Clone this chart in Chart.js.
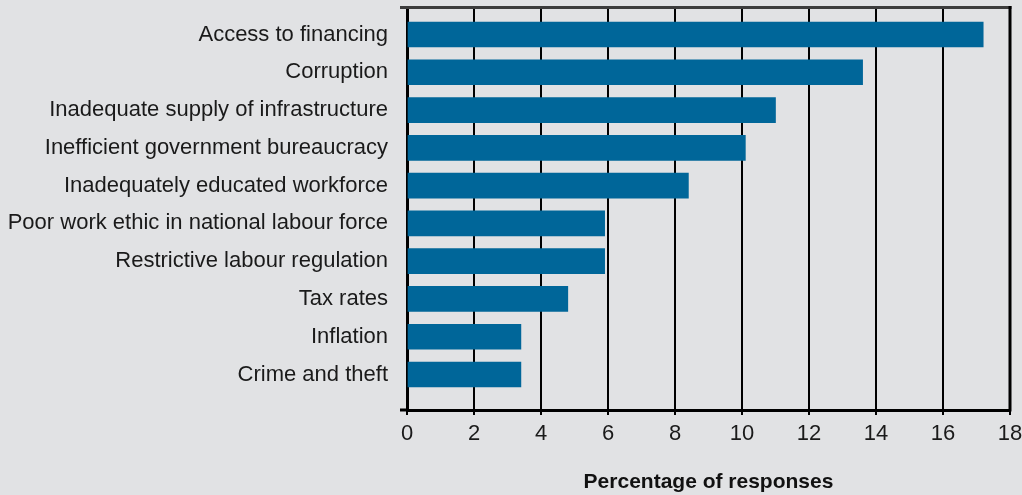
<!DOCTYPE html>
<html>
<head>
<meta charset="utf-8">
<script src="https://cdn.jsdelivr.net/npm/chart.js@4.4.1/dist/chart.umd.min.js"></script>
<style>
  html, body { margin: 0; padding: 0; background: #e1e2e4; }
  #wrap { width: 1022px; height: 495px; position: relative; }
</style>
</head>
<body>
<div id="wrap"><canvas id="c" width="1022" height="495"></canvas></div>
<script>
const categories = [
  "Access to financing",
  "Corruption",
  "Inadequate supply of infrastructure",
  "Inefficient government bureaucracy",
  "Inadequately educated workforce",
  "Poor work ethic in national labour force",
  "Restrictive labour regulation",
  "Tax rates",
  "Inflation",
  "Crime and theft"
];
const values = [17.2, 13.6, 11.0, 10.1, 8.4, 5.9, 5.9, 4.8, 3.4, 3.4];
const xTicks = [0, 2, 4, 6, 8, 10, 12, 14, 16, 18];
const axisTitle = "Percentage of responses";

const FONT = "'Liberation Sans', Arial, sans-serif";

const framePlugin = {
  id: 'frame',
  afterDraw(chart) {
    const { ctx, chartArea: a } = chart;
    ctx.save();
    // top border (dark grey)
    ctx.strokeStyle = '#3c3c3c';
    ctx.lineWidth = 3;
    ctx.beginPath();
    ctx.moveTo(a.left - 7, a.top - 1.5);
    ctx.lineTo(a.right + 1.5, a.top - 1.5);
    ctx.stroke();
    // right border
    ctx.strokeStyle = '#000';
    ctx.beginPath();
    ctx.moveTo(a.right, a.top - 3);
    ctx.lineTo(a.right, a.bottom + 1.5);
    ctx.stroke();
    // bottom axis extension to the left
    ctx.beginPath();
    ctx.moveTo(a.left - 7, a.bottom);
    ctx.lineTo(a.left, a.bottom);
    ctx.stroke();
    ctx.restore();
  }
};

new Chart(document.getElementById('c'), {
  type: 'bar',
  data: {
    datasets: [{
      data: values.map((v, i) => ({ x: v, y: i })),
      backgroundColor: '#006699',
      borderWidth: 0,
      barThickness: 25
    }]
  },
  options: {
    indexAxis: 'y',
    responsive: false,
    animation: false,
    layout: { padding: { left: 0, right: 12, top: 9, bottom: 0 } },
    plugins: { legend: { display: false }, tooltip: { enabled: false } },
    scales: {
      x: {
        type: 'linear',
        position: 'bottom',
        min: 0,
        max: 18,
        offset: false,
        afterBuildTicks: (s) => { s.ticks = xTicks.map(v => ({ value: v })); },
        afterFit: (s) => { s.height = 85; s.paddingLeft = 0; s.paddingRight = 0; },
        grid: {
          color: '#000',
          lineWidth: 2,
          offset: false,
          drawTicks: true,
          tickLength: 5,
          tickColor: '#000',
          tickWidth: 2
        },
        border: { display: true, color: '#000', width: 3 },
        ticks: {
          color: '#1a1a1a',
          font: { family: FONT, size: 22 },
          padding: 6,
          maxRotation: 0
        },
        title: {
          display: true,
          text: axisTitle,
          color: '#111',
          font: { family: FONT, size: 21, weight: 'bold' },
          padding: { top: 0, bottom: 0 }
        }
      },
      y: {
        type: 'linear',
        reverse: true,
        offset: false,
        min: -0.675,
        max: 9.94,
        afterBuildTicks: (s) => { s.ticks = categories.map((_, i) => ({ value: i })); },
        afterFit: (s) => { s.width = 407; s.paddingTop = 0; s.paddingBottom = 0; },
        grid: { display: false, drawTicks: false, offset: false },
        border: { display: true, color: '#000', width: 3 },
        ticks: {
          color: '#1a1a1a',
          font: { family: FONT, size: 22 },
          padding: 19,
          callback: (v) => categories[v]
        }
      }
    }
  },
  plugins: [framePlugin]
});
</script>
</body>
</html>
